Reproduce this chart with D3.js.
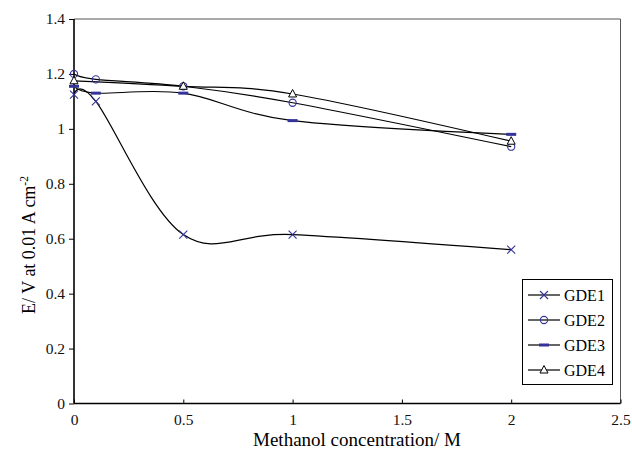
<!DOCTYPE html>
<html>
<head>
<meta charset="utf-8">
<script src="https://cdn.jsdelivr.net/npm/d3@7"></script>
<style>
  body { margin: 0; background: #fff; }
</style>
</head>
<body>
<div id="chart"></div>
<script>
// data
const conc = [0, 0.1, 0.5, 1, 2];
const gde1 = [1.125, 1.10, 0.615, 0.615, 0.56];
const gde2 = [1.20, 1.18, 1.155, 1.095, 0.935];
const gde3 = [1.155, 1.13, 1.13, 1.03, 0.98];
const gde4Conc = [0, 0.5, 1, 2];
const gde4 = [1.175, 1.155, 1.127, 0.955];
const seriesNames = ["GDE1", "GDE2", "GDE3", "GDE4"];
const xTicks = [0, 0.5, 1, 1.5, 2, 2.5];
const yTicks = [0, 0.2, 0.4, 0.6, 0.8, 1, 1.2, 1.4];

const width = 632, height = 456;
const markColor = "#333399";
const serif = "'Liberation Serif', 'DejaVu Serif', serif";

const svg = d3.select("#chart").append("svg")
    .attr("width", width)
    .attr("height", height);

const x = d3.scaleLinear().domain([0, 2.5]).range([74, 620.5]);
const y = d3.scaleLinear().domain([0, 1.4]).range([403.5, 19]);

// top and right frame
svg.append("path")
    .attr("d", `M${x(0)},${y(1.4)}H${x(2.5)}V${y(0)}`)
    .attr("fill", "none")
    .attr("stroke", "#555")
    .attr("stroke-width", 1);

// y axis
const yAxis = svg.append("g")
    .attr("transform", `translate(${x(0)},0)`)
    .call(d3.axisLeft(y).tickValues(yTicks).tickSize(5).tickPadding(4)
        .tickFormat(d => d3.format("~g")(d)));
// x axis, ticks point up
const xAxis = svg.append("g")
    .attr("transform", `translate(0,${y(0)})`)
    .call(d3.axisBottom(x).tickValues(xTicks).tickSize(-4).tickPadding(10)
        .tickFormat(d => d3.format("~g")(d)));

[yAxis, xAxis].forEach(function(g) {
    g.select(".domain").attr("stroke", "#000").attr("stroke-width", 1.6);
    g.selectAll(".tick line").attr("stroke", "#000");
    g.selectAll("text").attr("font-size", 15.5).attr("fill", "#111");
});
xAxis.select(".domain").attr("d", `M${x(0)},0H${x(2.5)}`);
yAxis.select(".domain").attr("d", `M0,${y(0)}V${y(1.4)}`);

// axis titles
svg.append("text")
    .attr("x", 357).attr("y", 446)
    .attr("text-anchor", "middle")
    .attr("font-size", 19)
    .text("Methanol concentration/ M");

const yt = svg.append("text")
    .attr("transform", "translate(35,245) rotate(-90)")
    .attr("text-anchor", "middle")
    .attr("font-size", 18);
yt.append("tspan").text("E/ V at 0.01 A cm");
yt.append("tspan").attr("dy", -7).attr("font-size", 11.5).text("-2");

// lines
const line = d3.line()
    .x(d => x(d[0]))
    .y(d => y(d[1]))
    .curve(d3.curveCardinal.tension(0));

const series = [
    { name: "GDE1", pts: d3.zip(conc, gde1), mark: "cross" },
    { name: "GDE2", pts: d3.zip(conc, gde2), mark: "circle" },
    { name: "GDE3", pts: d3.zip(conc, gde3), mark: "dash" },
    { name: "GDE4", pts: d3.zip(gde4Conc, gde4), mark: "tri" }
];

series.forEach(function(s) {
    svg.append("path")
        .datum(s.pts)
        .attr("d", line)
        .attr("fill", "none")
        .attr("stroke", "#000")
        .attr("stroke-width", 1.2);
});

function drawMark(g, type, cx, cy) {
    if (type === "cross") {
        g.append("path")
            .attr("d", `M${cx-4},${cy-4}L${cx+4},${cy+4}M${cx-4},${cy+4}L${cx+4},${cy-4}`)
            .attr("stroke", markColor).attr("stroke-width", 1.1);
    } else if (type === "circle") {
        g.append("circle").attr("cx", cx).attr("cy", cy).attr("r", 3.6)
            .attr("fill", "none").attr("stroke", markColor).attr("stroke-width", 1.1);
    } else if (type === "dash") {
        g.append("rect").attr("x", cx - 5).attr("y", cy - 1.5)
            .attr("width", 10).attr("height", 3).attr("fill", markColor);
    } else {
        g.append("path")
            .attr("d", `M${cx},${cy-4.5}L${cx+4},${cy+3}L${cx-4},${cy+3}Z`)
            .attr("fill", "#fff").attr("stroke", "#000").attr("stroke-width", 1);
    }
}

const marks = svg.append("g");
series.forEach(function(s) {
    s.pts.forEach(p => drawMark(marks, s.mark, x(p[0]), y(p[1])));
});

// legend
const legend = svg.append("g");
legend.append("rect")
    .attr("x", 522.5).attr("y", 279.5)
    .attr("width", 90).attr("height", 105)
    .attr("fill", "#fff").attr("stroke", "#000").attr("stroke-width", 1);

const legY = d3.scalePoint().domain(seriesNames).range([295, 370]);
series.forEach(function(s) {
    const ly = legY(s.name);
    legend.append("line")
        .attr("x1", 528).attr("x2", 560).attr("y1", ly).attr("y2", ly)
        .attr("stroke", "#000").attr("stroke-width", 1.2);
    drawMark(legend, s.mark, 544, ly);
    legend.append("text")
        .attr("x", 564).attr("y", ly + 5.5)
        .attr("font-size", 16)
        .text(s.name);
});

// serif everywhere, set inline so the axis defaults do not win
svg.selectAll("g").attr("font-family", null);
svg.selectAll("text").style("font-family", serif);
</script>
</body>
</html>
